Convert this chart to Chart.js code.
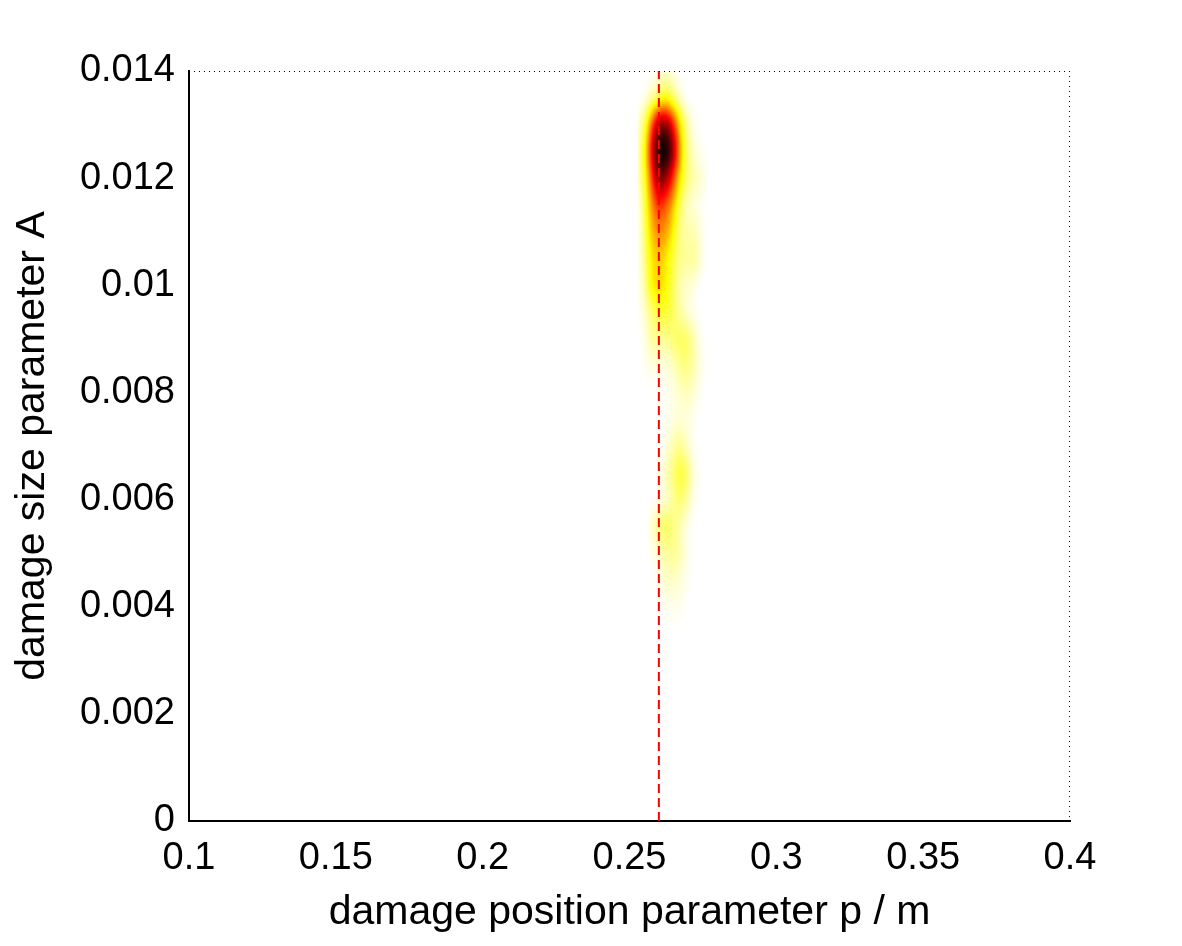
<!DOCTYPE html>
<html>
<head>
<meta charset="utf-8">
<script src="https://cdn.jsdelivr.net/npm/chart.js@4.4.1/dist/chart.umd.min.js"></script>
<style>
  html, body { margin: 0; padding: 0; background: #fff; }
  #wrap { width: 1182px; height: 946px; }
</style>
</head>
<body>
<div id="wrap"><canvas id="densityChart" width="1182" height="946"></canvas></div>
<script>
// axis ticks
const xTicks = [0.1, 0.15, 0.2, 0.25, 0.3, 0.35, 0.4];
const yTicks = [0, 0.002, 0.004, 0.006, 0.008, 0.01, 0.012, 0.014];

// true damage position (dashed marker)
const truePosition = 0.26;

// density grid (cell centres)
const xCells = [0.254, 0.256, 0.258, 0.260, 0.262, 0.264, 0.266, 0.268, 0.270, 0.272, 0.274, 0.276];
const yCells = [0.0140, 0.0135, 0.0130, 0.0125, 0.0120, 0.0115, 0.0110, 0.0105, 0.0100, 0.0095, 0.0090,
                0.0085, 0.0080, 0.0075, 0.0070, 0.0065, 0.0060, 0.0055, 0.0050, 0.0045, 0.0040, 0.0035];
const density = [
    [0, 0, 0, 0.02, 0.04, 0.03, 0.01, 0, 0, 0, 0, 0],
    [0, 0.04, 0.10, 0.18, 0.24, 0.20, 0.10, 0.03, 0, 0, 0, 0],
    [0.08, 0.25, 0.55, 0.78, 0.82, 0.70, 0.45, 0.22, 0.08, 0.02, 0, 0],
    [0.12, 0.35, 0.72, 0.97, 1.00, 0.90, 0.60, 0.28, 0.12, 0.05, 0.02, 0],
    [0.10, 0.30, 0.58, 0.82, 0.80, 0.65, 0.42, 0.22, 0.12, 0.08, 0.05, 0.02],
    [0.06, 0.26, 0.44, 0.57, 0.52, 0.42, 0.26, 0.12, 0.06, 0.04, 0.02, 0],
    [0.05, 0.22, 0.36, 0.42, 0.40, 0.32, 0.18, 0.10, 0.08, 0.08, 0.04, 0],
    [0.04, 0.18, 0.30, 0.33, 0.30, 0.22, 0.15, 0.10, 0.10, 0.10, 0.05, 0],
    [0.03, 0.15, 0.28, 0.30, 0.28, 0.20, 0.12, 0.06, 0.05, 0.03, 0, 0],
    [0.02, 0.08, 0.15, 0.20, 0.20, 0.18, 0.12, 0.08, 0.04, 0.02, 0, 0],
    [0, 0.05, 0.10, 0.10, 0.10, 0.12, 0.15, 0.16, 0.14, 0.08, 0.02, 0],
    [0, 0.02, 0.03, 0.03, 0.03, 0.05, 0.08, 0.12, 0.12, 0.08, 0.03, 0],
    [0, 0, 0, 0, 0.01, 0.02, 0.04, 0.06, 0.07, 0.04, 0.01, 0],
    [0, 0, 0, 0, 0.01, 0.02, 0.04, 0.04, 0.03, 0.01, 0, 0],
    [0, 0, 0, 0, 0.02, 0.06, 0.10, 0.10, 0.05, 0.01, 0, 0],
    [0, 0, 0, 0.01, 0.05, 0.10, 0.16, 0.20, 0.12, 0.04, 0, 0],
    [0, 0, 0, 0.02, 0.04, 0.08, 0.13, 0.14, 0.08, 0.02, 0, 0],
    [0, 0, 0.06, 0.12, 0.16, 0.14, 0.10, 0.06, 0.02, 0, 0, 0],
    [0, 0, 0.02, 0.05, 0.09, 0.10, 0.10, 0.06, 0.02, 0, 0, 0],
    [0, 0, 0, 0.02, 0.05, 0.06, 0.05, 0.03, 0.01, 0, 0, 0],
    [0, 0, 0, 0, 0.01, 0.02, 0.02, 0.01, 0, 0, 0, 0],
    [0, 0, 0, 0, 0, 0, 0, 0, 0, 0, 0, 0]
];

const FONT = "'Liberation Sans', Arial, Helvetica, sans-serif";

// inverted "hot" colormap: white -> yellow -> red -> black
function hotColor(v) {
    v = Math.max(0, Math.min(1, v));
    if (v < 0.25) return [255, 255, 255 * (1 - v / 0.25)];
    if (v < 0.625) return [255, 255 * (1 - (v - 0.25) / 0.375), 0];
    return [255 * (1 - (v - 0.625) / 0.375), 0, 0];
}

// scatter points carry the grid values; drawn as a smooth density image
const cellPoints = [];
yCells.forEach((y, r) => xCells.forEach((x, c) => cellPoints.push({ x: x, y: y, v: density[r][c] })));

const densityPlugin = {
    id: 'densityImage',
    beforeDatasetsDraw(chart) {
        const { ctx, chartArea, scales } = chart;
        const nc = xCells.length, nr = yCells.length;
        const dx = xCells[1] - xCells[0], dy = yCells[0] - yCells[1];
        const left = scales.x.getPixelForValue(xCells[0] - dx / 2);
        const right = scales.x.getPixelForValue(xCells[nc - 1] + dx / 2);
        const top = scales.y.getPixelForValue(yCells[0] + dy / 2);
        const bottom = scales.y.getPixelForValue(yCells[nr - 1] - dy / 2);
        const w = Math.round(right - left), h = Math.round(bottom - top);

        const small = document.createElement('canvas');
        small.width = nc; small.height = nr;
        const sctx = small.getContext('2d');
        const sImg = sctx.createImageData(nc, nr);
        cellPoints.forEach((p, i) => {
            const g = Math.round(p.v * 255);
            sImg.data[i * 4] = g; sImg.data[i * 4 + 1] = g; sImg.data[i * 4 + 2] = g; sImg.data[i * 4 + 3] = 255;
        });
        sctx.putImageData(sImg, 0, 0);

        const big = document.createElement('canvas');
        big.width = w; big.height = h;
        const bctx = big.getContext('2d');
        bctx.fillStyle = '#000';
        bctx.fillRect(0, 0, w, h);
        bctx.imageSmoothingEnabled = true;
        bctx.imageSmoothingQuality = 'high';
        bctx.filter = 'blur(2px)';
        bctx.drawImage(small, 0, 0, w, h);
        bctx.filter = 'none';
        const img = bctx.getImageData(0, 0, w, h);
        for (let i = 0; i < img.data.length; i += 4) {
            const v = img.data[i] / 255;
            const col = hotColor(v);
            img.data[i] = col[0]; img.data[i + 1] = col[1]; img.data[i + 2] = col[2];
            img.data[i + 3] = v > 0.003 ? 255 : 0;
        }
        bctx.putImageData(img, 0, 0);

        ctx.save();
        ctx.beginPath();
        ctx.rect(chartArea.left + 1, chartArea.top + 1, chartArea.right - chartArea.left - 2, chartArea.bottom - chartArea.top - 2);
        ctx.clip();
        ctx.drawImage(big, left, top);
        ctx.restore();
    },
    afterDraw(chart) {
        // dotted top and right box edges
        const { ctx, chartArea } = chart;
        ctx.save();
        ctx.strokeStyle = '#000';
        ctx.lineWidth = 1;
        ctx.setLineDash([1, 4]);
        ctx.beginPath();
        ctx.moveTo(chartArea.left, chartArea.top + 0.5);
        ctx.lineTo(chartArea.right, chartArea.top + 0.5);
        ctx.moveTo(chartArea.right - 0.5, chartArea.top);
        ctx.lineTo(chartArea.right - 0.5, chartArea.bottom);
        ctx.stroke();
        ctx.restore();
    }
};

function fmt(v) {
    return String(Number(v.toFixed(4)));
}

new Chart(document.getElementById('densityChart'), {
    type: 'scatter',
    data: {
        datasets: [
            {
                label: 'density',
                data: cellPoints,
                pointRadius: 0,
                pointHoverRadius: 0,
                showLine: false
            },
            {
                type: 'line',
                label: 'true position',
                data: [{ x: truePosition, y: yTicks[0] }, { x: truePosition, y: yTicks[yTicks.length - 1] }],
                borderColor: '#ff0000',
                borderWidth: 2,
                borderDash: [9, 5],
                pointRadius: 0,
                fill: false
            }
        ]
    },
    options: {
        responsive: false,
        animation: false,
        events: [],
        layout: { padding: { left: 0, top: 71, right: 112, bottom: 0 } },
        plugins: {
            legend: { display: false },
            tooltip: { enabled: false }
        },
        scales: {
            x: {
                type: 'linear',
                min: xTicks[0],
                max: xTicks[xTicks.length - 1],
                afterBuildTicks: (axis) => { axis.ticks = xTicks.map(v => ({ value: v })); },
                afterFit: (axis) => { axis.height = 946 - 821; },
                grid: { display: false, drawTicks: false },
                border: { display: true, color: '#000', width: 2 },
                ticks: {
                    color: '#000',
                    padding: 15,
                    maxRotation: 0,
                    font: { family: FONT, size: 38 },
                    callback: (v) => fmt(v)
                },
                title: {
                    display: true,
                    text: 'damage position parameter p / m',
                    color: '#000',
                    font: { family: FONT, size: 41 },
                    padding: { top: 0, bottom: 9 }
                }
            },
            y: {
                type: 'linear',
                min: yTicks[0],
                max: yTicks[yTicks.length - 1],
                afterBuildTicks: (axis) => { axis.ticks = yTicks.map(v => ({ value: v })); },
                afterFit: (axis) => { axis.width = 189; },
                grid: { display: false, drawTicks: false },
                border: { display: true, color: '#000', width: 2 },
                ticks: {
                    color: '#000',
                    padding: 14,
                    font: { family: FONT, size: 38 },
                    callback: (v) => fmt(v)
                },
                title: {
                    display: true,
                    text: 'damage size parameter A',
                    color: '#000',
                    font: { family: FONT, size: 41 },
                    padding: { top: 8, bottom: 0 }
                }
            }
        }
    },
    plugins: [densityPlugin]
});
</script>
</body>
</html>
